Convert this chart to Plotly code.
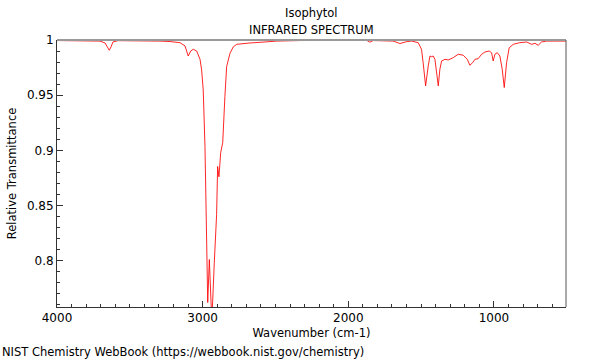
import plotly.graph_objects as go

# Wavenumber (cm-1) and relative transmittance
wavenumber = [4000, 3842, 3705, 3670, 3657, 3641, 3629, 3616, 3581, 3430, 3293, 3224, 3156,
              3121, 3111, 3099, 3082, 3064, 3041, 3018, 3007, 2996, 2984, 2972, 2965, 2954,
              2937, 2920, 2904, 2897, 2888, 2876, 2862, 2847, 2835, 2812, 2790, 2766, 2721,
              2675, 2606, 2492, 2332, 2217, 1874, 1851, 1829, 1691, 1645, 1599, 1565, 1520,
              1497, 1486, 1469, 1451, 1439, 1428, 1417, 1405, 1393, 1382, 1371, 1359, 1336,
              1314, 1279, 1245, 1211, 1183, 1165, 1146, 1130, 1108, 1084, 1062, 1032, 1016,
              1005, 993, 977, 959, 943, 929, 913, 895, 867, 822, 775, 741, 718, 696, 673,
              638, 547, 506]
transmittance = [0.9995, 0.9995, 0.999, 0.9973, 0.9946, 0.9907, 0.9937, 0.9982, 0.9994, 0.9995,
                 0.999, 0.9986, 0.9976, 0.9946, 0.991, 0.9855, 0.990, 0.9916, 0.990, 0.9825,
                 0.9729, 0.9548, 0.9035, 0.828, 0.762, 0.801, 0.745, 0.798, 0.842, 0.8854,
                 0.876, 0.898, 0.907, 0.949, 0.976, 0.988, 0.9937, 0.9961, 0.9968, 0.9973,
                 0.9979, 0.999, 0.9995, 0.9997, 0.9997, 0.998, 0.9995, 0.999, 0.9968, 0.9985,
                 0.999, 0.9976, 0.9916, 0.9795, 0.9584, 0.9765, 0.9855, 0.9849, 0.9855, 0.9825,
                 0.9704, 0.9584, 0.9735, 0.981, 0.9825, 0.9819, 0.984, 0.9871, 0.9862, 0.9825,
                 0.9771, 0.9795, 0.9825, 0.9831, 0.9871, 0.9891, 0.990, 0.9885, 0.981, 0.9871,
                 0.9885, 0.9855, 0.9735, 0.9569, 0.9795, 0.993, 0.9961, 0.9976, 0.9982, 0.9961,
                 0.997, 0.9952, 0.9982, 0.999, 0.999, 0.999]

x_tickvals = [4000, 3000, 2000, 1000]
x_ticktext = ["4000", "3000", "2000", "1000"]
y_tickvals = [0.8, 0.85, 0.9, 0.95, 1.0]
y_ticktext = ["0.8", "0.85", "0.9", "0.95", "1"]

FONT = "DejaVu Sans"
TXT = 11.5

fig = go.Figure()
fig.add_trace(go.Scatter(x=wavenumber, y=transmittance, mode="lines",
                         line=dict(color="rgba(255,0,0,0.85)", width=1),
                         hoverinfo="x+y", showlegend=False))

fig.update_layout(
    width=600, height=360,
    margin=dict(l=57, r=34, t=40, b=53),
    paper_bgcolor="white", plot_bgcolor="white",
    font=dict(family=FONT, size=12, color="black"),
    xaxis=dict(range=[4000, 505], showgrid=False, zeroline=False,
               showline=True, linecolor="#333", linewidth=1,
               ticks="inside", ticklen=6, tickcolor="#333",
               tickvals=x_tickvals, ticktext=x_ticktext,
               minor=dict(dtick=100, ticks="inside", ticklen=3, tickcolor="#333"),
               title=dict(text="Wavenumber (cm-1)", standoff=4,
                          font=dict(family=FONT, size=TXT))),
    yaxis=dict(range=[0.758, 1.0], showgrid=False, zeroline=False,
               showline=True, linecolor="#333", linewidth=1,
               ticks="inside", ticklen=6, tickcolor="#333",
               tickvals=y_tickvals, ticktext=y_ticktext,
               minor=dict(dtick=0.01, ticks="inside", ticklen=3, tickcolor="#333"),
               title=dict(text="Relative Transmittance", standoff=7,
                          font=dict(family=FONT, size=TXT))),
)

# Top (gray) and right (dark) borders
fig.add_shape(type="line", xref="paper", yref="paper", x0=0, x1=1, y0=1, y1=1,
              line=dict(color="#999999", width=2))
fig.add_shape(type="line", xref="paper", yref="paper", x0=1, x1=1, y0=0, y1=1,
              line=dict(color="#555555", width=1))

fig.add_annotation(text="Isophytol", xref="paper", yref="paper", x=0.5, y=1,
                   yshift=27, showarrow=False, font=dict(family=FONT, size=TXT),
                   yanchor="middle")
fig.add_annotation(text="INFRARED SPECTRUM", xref="paper", yref="paper", x=0.5, y=1,
                   yshift=10, showarrow=False, font=dict(family=FONT, size=TXT),
                   yanchor="middle")
fig.add_annotation(text="NIST Chemistry WebBook (https://webbook.nist.gov/chemistry)",
                   xref="paper", yref="paper", x=-57/509, y=0, yshift=-45,
                   xanchor="left", yanchor="middle", showarrow=False,
                   font=dict(family=FONT, size=TXT))

fig.write_html("out.html", config={"displayModeBar": False},
               post_script="document.body.style.margin='0px';document.body.style.overflow='hidden';")
